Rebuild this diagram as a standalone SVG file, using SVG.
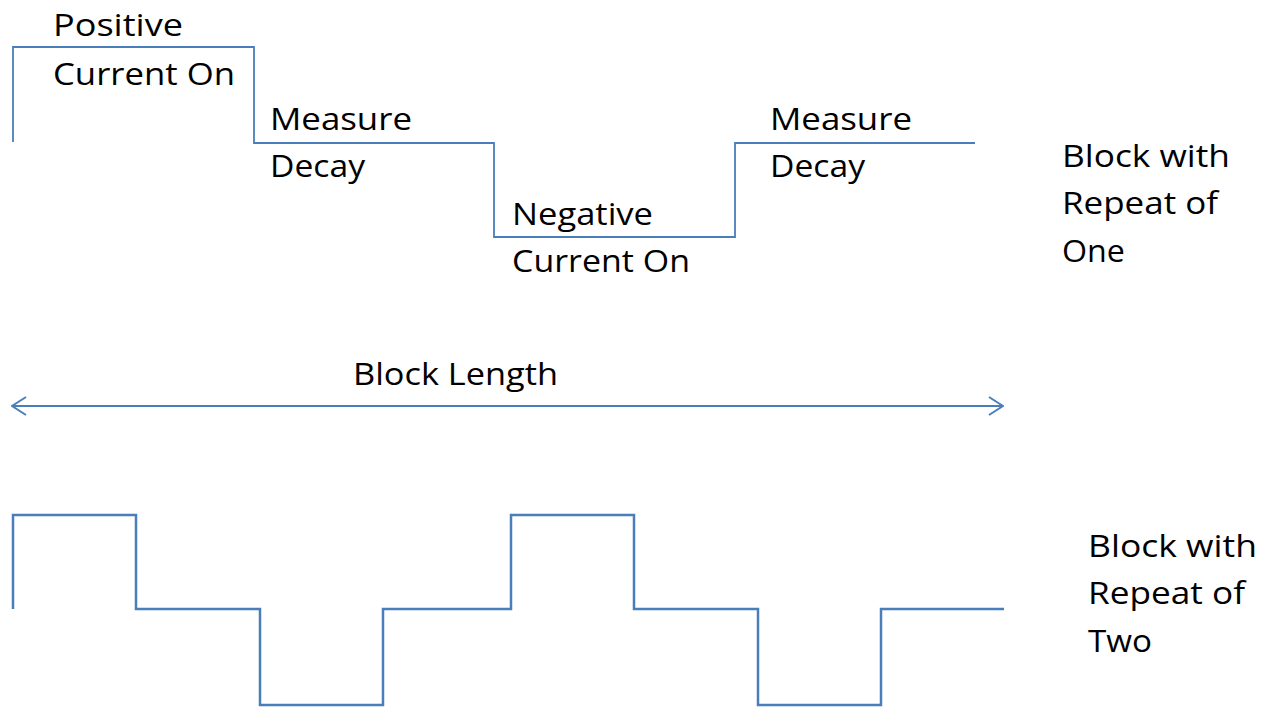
<svg xmlns="http://www.w3.org/2000/svg" width="1271" height="707" viewBox="0 0 1271 707">
<style>
.w{fill:none;stroke:#4a7ebb;stroke-linejoin:miter;stroke-linecap:butt}
.t1{stroke-width:1.8}
.t2{stroke-width:2.5}
text{font-family:"Open Sans","Liberation Sans",sans-serif;font-size:31px;fill:#000}
</style>
<defs>
<marker id="ah" markerWidth="16" markerHeight="20" refX="15" refY="10" orient="auto-start-reverse" markerUnits="userSpaceOnUse">
<path d="M1,1 L15,10 L1,19" fill="none" stroke="#4a7ebb" stroke-width="2"/>
</marker>
</defs>
<g id="connectors">
<path id="wave-one" class="w t1" d="M13,142 V47 H254 V143 H494 V237 H735 V143 H975"/>
<line id="block-length-arrow" x1="12" y1="406" x2="1003" y2="406" stroke="#4a7ebb" stroke-width="2" marker-start="url(#ah)" marker-end="url(#ah)"/>
<path id="wave-two" class="w t2" d="M13,609 V515 H136 V609 H260 V705 H383 V609 H511 V515 H634 V609 H758 V705 H881 V609 H1004"/>
</g>
<g id="label-positive">
<text x="53" y="36" textLength="130" lengthAdjust="spacingAndGlyphs">Positive</text>
<text x="53" y="85" textLength="182" lengthAdjust="spacingAndGlyphs">Current On</text>
</g>
<g id="label-measure-1">
<text x="270" y="130" textLength="142" lengthAdjust="spacingAndGlyphs">Measure</text>
<text x="270" y="177" textLength="95" lengthAdjust="spacingAndGlyphs">Decay</text>
</g>
<g id="label-negative">
<text x="512" y="225" textLength="141" lengthAdjust="spacingAndGlyphs">Negative</text>
<text x="512" y="272" textLength="178" lengthAdjust="spacingAndGlyphs">Current On</text>
</g>
<g id="label-measure-2">
<text x="770" y="130" textLength="142" lengthAdjust="spacingAndGlyphs">Measure</text>
<text x="770" y="177" textLength="95" lengthAdjust="spacingAndGlyphs">Decay</text>
</g>
<g id="label-repeat-one">
<text x="1062" y="167" textLength="168" lengthAdjust="spacingAndGlyphs">Block with</text>
<text x="1062" y="214" textLength="156" lengthAdjust="spacingAndGlyphs">Repeat of</text>
<text x="1062" y="262" textLength="63" lengthAdjust="spacingAndGlyphs">One</text>
</g>
<g id="label-block-length">
<text x="353" y="385" textLength="205" lengthAdjust="spacingAndGlyphs">Block Length</text>
</g>
<g id="label-repeat-two">
<text x="1088" y="557" textLength="169" lengthAdjust="spacingAndGlyphs">Block with</text>
<text x="1088" y="604" textLength="157" lengthAdjust="spacingAndGlyphs">Repeat of</text>
<text x="1088" y="652" textLength="64" lengthAdjust="spacingAndGlyphs">Two</text>
</g>
</svg>
